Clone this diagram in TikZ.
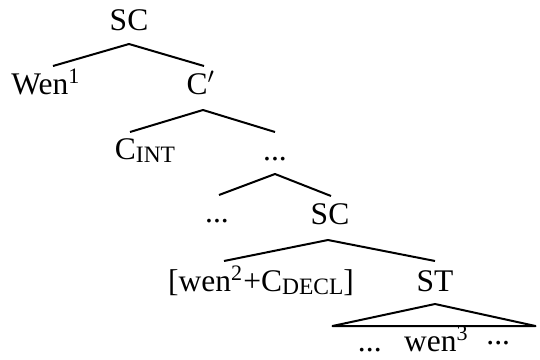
\documentclass[tikz,border=0pt]{standalone}
\usepackage{fontspec}
\setmainfont{Liberation Serif}
\usepackage{tikz}

\newcommand{\lowcaps}[1]{\raisebox{-1.2pt}{\fontsize{9.4}{10}\selectfont #1}}

\begin{document}
\begin{tikzpicture}[
    x=0.4pt,y=-0.4pt,
    lbl/.style={inner sep=0pt,anchor=south,text height=8pt,text depth=0pt,font=\fontsize{12.6}{14}\selectfont},
    branch/.style={line width=0.8pt,line join=round},
]
    \useasboundingbox (0,0) rectangle (540,360);

    \node[lbl] (sctop) at (129,31) {SC};
    \node[lbl] (wenone) at (46,95) {Wen\textsuperscript{1}};
    \node[lbl] (cbar) at (201,95) {C$'$};
    \node[lbl] (cint) at (145,160) {C\lowcaps{INT}};
    \node[lbl] (dotsa) at (275,161) {...};
    \node[lbl] (dotsb) at (217,223) {...};
    \node[lbl] (scmid) at (330,225) {SC};
    \node[lbl] (wendecl) at (261,292) {[wen\textsuperscript{2}+C\lowcaps{DECL}]};
    \node[lbl] (st) at (435,292) {ST};
    \node[lbl,minimum width=80.8pt] (leaves) at (434,352) {...\hspace{9pt}wen\textsuperscript{3}\hspace{7pt}\raisebox{3pt}{...}};

    \draw[branch] ([xshift=2.8pt,yshift=3.2pt]wenone.north) -- ([yshift=-5.2pt]sctop.south) -- ([xshift=1.2pt,yshift=3.2pt]cbar.north);
    \draw[branch] ([xshift=-6pt,yshift=2.8pt]cint.north) -- ([xshift=0.8pt,yshift=-6pt]cbar.south) -- ([yshift=3.2pt]dotsa.north);
    \draw[branch] ([xshift=0.8pt,yshift=2.8pt]dotsb.north) -- ([yshift=-5.2pt]dotsa.south) -- ([xshift=0.4pt,yshift=3.2pt]scmid.north);
    \draw[branch] ([xshift=-14.8pt,yshift=4pt]wendecl.north) -- ([xshift=-0.8pt,yshift=-6pt]scmid.south) -- ([yshift=4pt]st.north);
    \draw[branch] ([yshift=-4.8pt]st.south) -- ([yshift=2pt]leaves.north east) -- ([yshift=2pt]leaves.north west) -- cycle;
\end{tikzpicture}
\end{document}
